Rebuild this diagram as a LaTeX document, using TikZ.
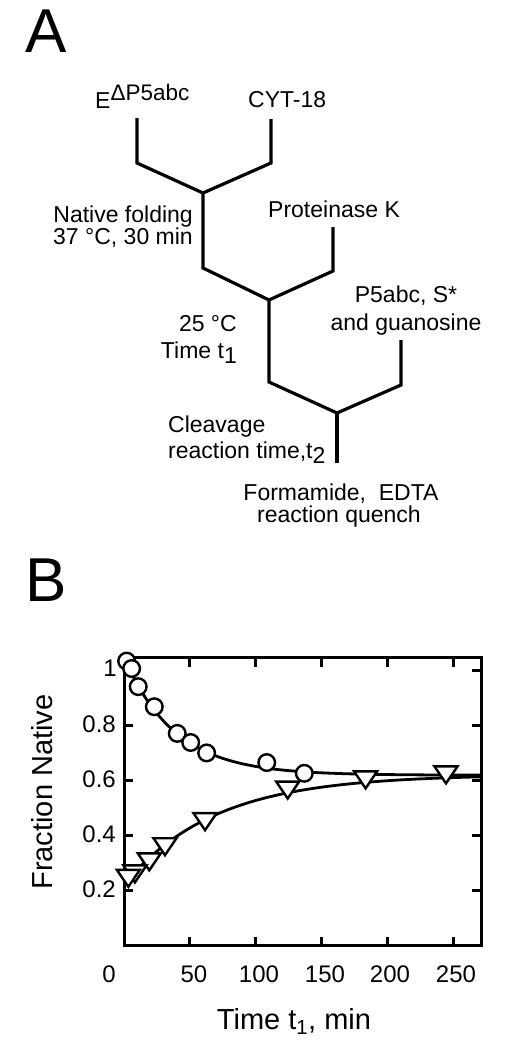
\documentclass[tikz,border=0pt]{standalone}
\usepackage{fontspec}
\setmainfont{Liberation Sans}
\begin{document}
\begin{tikzpicture}[x=1pt,y=-1pt,
  treeline/.style={line width=3.2pt, line join=miter},
  lbl/.style={inner sep=0pt, font=\fontsize{23}{23}\selectfont},
  ticklbl/.style={inner sep=0pt, font=\fontsize{24}{24}\selectfont},
  axlbl/.style={inner sep=0pt, font=\fontsize{29}{29}\selectfont},
  panel/.style={inner sep=0pt, font=\fontsize{62}{62}\selectfont},
  frameline/.style={line width=3pt},
  fitcurve/.style={line width=2.8pt},
  mk/.style={line width=2.4pt, fill=white, line join=miter}]
\fill[white] (0,0) rectangle (506,1050);
\useasboundingbox (0,0) rectangle (506,1050);

% panel letters
\node[panel, anchor=base] (A) at (46,52) {A};
\node[panel, anchor=base] (B) at (46,601) {B};

% ---- tree (panel A) ----
\node[lbl, anchor=base west] (e) at (95,108) {E\raisebox{8pt}{\fontsize{22.5}{22.5}\selectfont ΔP5abc}};
\node[lbl, anchor=base west] (cyt) at (248,107) {CYT-18};
\node[lbl, anchor=base east] (nf1) at (193,222.5) {Native folding};
\node[lbl, anchor=base east] (nf2) at (193,244.5) {37 °C, 30 min};
\node[lbl, anchor=base west] (pk) at (268,217) {Proteinase K};
\node[lbl, anchor=base east] (t25) at (237,331) {25 °C};
\node[lbl, anchor=base east] (tt1) at (237,358) {Time t\raisebox{-5pt}{1}};
\node[lbl, anchor=base] (p5) at (406,302) {P5abc, S*};
\node[lbl, anchor=base] (gua) at (406,330) {and guanosine};
\node[lbl, anchor=base west] (clv) at (168,432) {Cleavage};
\node[lbl, anchor=base west] (rt2) at (168,458) {reaction time,t\raisebox{-5pt}{2}};
\node[lbl, anchor=base] (fe) at (341,500) {Formamide,\ \ EDTA};
\node[lbl, anchor=base] (rq) at (339,522) {reaction quench};

\coordinate (Ltop) at (137,118);
\coordinate (Lbend) at (137,163);
\coordinate (J1) at (203,193);
\coordinate (Rbend) at (271,163);
\coordinate (Rtop) at (271,119);
\coordinate (J1b) at (203,268);
\coordinate (J2) at (269,300);
\coordinate (Pbend) at (333,271);
\coordinate (Ptop) at (333,227);
\coordinate (J2b) at (269,382);
\coordinate (J3) at (337,413);
\coordinate (Sbend) at (401,385);
\coordinate (Stop) at (401,340);
\coordinate (End) at (337,463);

\draw[treeline] (Ltop) -- (Lbend) -- (J1) -- (Rbend) -- (Rtop);
\draw[treeline] (J1) -- (J1b) -- (J2) -- (Pbend) -- (Ptop);
\draw[treeline] (J2) -- (J2b) -- (J3) -- (Sbend) -- (Stop);
\draw[treeline] (J3) -- (End);

% ---- plot (panel B) ----
\begin{scope}[xshift=124pt, yshift=-945.7pt, x=1.318pt, y=275pt]
  \begin{scope}
    \clip (0,0) rectangle (271,1.047);
    \draw[fitcurve] plot[domain=0:271, samples=160, smooth] (\x,{0.62+0.43*exp(-0.026*\x)});
    \draw[fitcurve] plot[domain=0:271, samples=160, smooth] (\x,{0.622-0.40*exp(-0.0145*\x)});
  \end{scope}
  \draw[frameline] (0,0) rectangle (271,1.047);
  \foreach \t in {50,100,150,200,250} {
    \draw[frameline] (\t,0) -- ++(0,9pt);
    \draw[frameline] (\t,1.047) -- ++(0,-9pt);
  }
  \foreach \v in {0.2,0.4,0.6,0.8,1} {
    \draw[frameline] (0,\v) -- ++(9pt,0);
    \draw[frameline] (271,\v) -- ++(-9pt,0);
  }
  \foreach \t/\v in {124.2/0.566, 183.3/0.603, 244.3/0.621, 61.5/0.451, 31.1/0.36, 19.2/0.305, 8.3/0.261, 3.3/0.245} {
    \draw[mk] (\t,\v) ++(-11.5pt,8.5pt) -- ++(23pt,0pt) -- ++(-11.5pt,-17pt) -- cycle;
  }
  \foreach \t/\v in {2.0/1.035, 5.8/1.008, 10.8/0.942, 23.0/0.869, 40.4/0.772, 50.6/0.739, 62.7/0.701, 108.3/0.666, 136.8/0.627} {
    \draw[mk] (\t,\v) circle[radius=8.3pt];
  }
\end{scope}

% tick labels
\node[ticklbl] (x0) at (109,974.5) {0};
\node[ticklbl] (x50) at (194,974.5) {50};
\node[ticklbl] (x100) at (259,974.5) {100};
\node[ticklbl] (x150) at (325,974.5) {150};
\node[ticklbl] (x200) at (390,974.5) {200};
\node[ticklbl] (x250) at (456,974.5) {250};
\node[ticklbl, anchor=east] (y1) at (117,668) {1};
\node[ticklbl, anchor=east] (y08) at (116,724) {0.8};
\node[ticklbl, anchor=east] (y06) at (116,779.5) {0.6};
\node[ticklbl, anchor=east] (y04) at (116,834.5) {0.4};
\node[ticklbl, anchor=east] (y02) at (116,889.5) {0.2};

\node[axlbl, anchor=base] (xl) at (294,1029) {Time t\textsubscript{1}, min};
\node[axlbl, rotate=90] (yl) at (42.5,792) {Fraction Native};
\end{tikzpicture}
\end{document}
